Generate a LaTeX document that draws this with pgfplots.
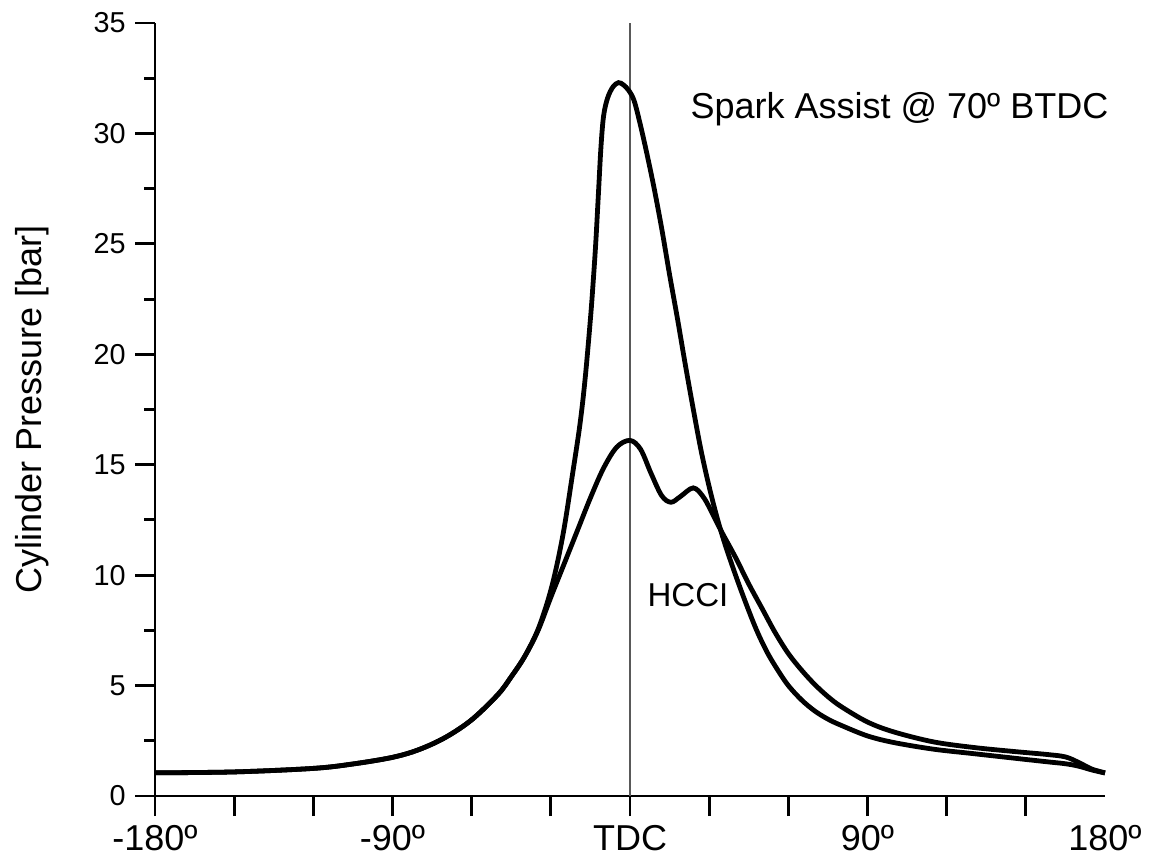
\documentclass[border=0pt]{standalone}
\usepackage{pgfplots}
\pgfplotsset{compat=1.18}
\usepackage{fontspec}
\setmainfont{Liberation Sans}
\usetikzlibrary{calc}
\begin{document}
\begin{tikzpicture}
\begin{axis}[
 name=ax,
 scale only axis, width=356.25pt, height=289.875pt,
 xmin=-180,xmax=180,ymin=0,ymax=35,
 axis lines=left, axis line style={-, line width=1.1pt},
 tick align=outside, tick style={line width=1.1pt, black},
 major tick length=7.5pt, minor tick length=4pt,
 xtick={-180,-150,...,150}, xticklabels={-180º,,,-90º,,,TDC,,,90º,,},
 extra x ticks={180}, extra x tick labels={180º}, extra x tick style={tick style={draw=none}},
 ytick={0,5,...,35}, minor ytick={2.5,7.5,...,32.5},
 /pgf/number format/assume math mode=true,
 xticklabel style={font=\fontsize{13.5}{13.5}\selectfont},
 yticklabel style={font=\fontsize{10.8}{10.8}\selectfont},
 ylabel={Cylinder Pressure [bar]},
 ylabel style={font=\fontsize{13.5}{13.5}\selectfont, at={(axis description cs:-0.119,0.5)}, anchor=base},
 clip=false,
]
\addplot[gray!70!black, line width=0.4pt] coordinates {(0,0) (0,35)};
% HCCI
\addplot[black, line width=1.8pt, smooth, tension=0.55] coordinates {
(-180,1.05) (-150,1.09) (-120,1.25) (-105,1.45) (-90,1.75) (-80,2.1) (-70,2.65) (-60,3.45) (-50,4.6) (-45,5.4) (-40,6.3) (-35,7.45)
(-30,9.0) (-25,10.5) (-20,12.0) (-15,13.5) (-10,14.85) (-5,15.8) (0,16.1) (4,15.7) (8,14.6) (12,13.6) (15.5,13.3) (19,13.55) (24,13.95) (28,13.5) (32,12.6) (35,11.9) (40,10.8) (45,9.6) (50,8.5) (55,7.4) (60,6.45) (65,5.7) (70,5.05) (75,4.5) (80,4.05) (90,3.35) (100,2.9) (115,2.45) (130,2.2) (145,2.02) (158,1.88) (165,1.77) (170,1.52) (175,1.22) (180,1.05)
};
% Spark assist
\addplot[black, line width=1.8pt, smooth, tension=0.55] coordinates {
(-180,1.05) (-150,1.09) (-120,1.25) (-105,1.45) (-90,1.75) (-80,2.1) (-70,2.65) (-60,3.45) (-50,4.6) (-45,5.4) (-40,6.3) (-35,7.5)
(-31,8.9) (-28,10.3) (-25,12.1) (-22,14.4) (-19,16.8) (-17,18.9) (-15,21.6) (-14,23.2) (-13,25.0) (-12,27.2) (-11,29.4) (-10,30.8) (-8.5,31.6) (-6.5,32.1) (-4.4,32.3) (-2.5,32.2) (-0.5,31.95) (1.5,31.5) (3.5,30.6) (6,29.3) (9,27.6) (12,25.7) (15,23.6) (18,21.6) (21,19.5) (24,17.5) (27,15.6) (30,14.0) (33,12.6) (36,11.4) (40,10.0) (44,8.7) (48,7.5) (52,6.5) (56,5.7) (60,5.0) (65,4.35) (70,3.85) (75,3.48) (80,3.2) (90,2.72) (100,2.42) (115,2.12) (130,1.92) (145,1.72) (158,1.55) (165,1.46) (170,1.35) (175,1.18) (180,1.04)
};
\node[anchor=base east, inner sep=0pt, font=\fontsize{13.5}{13.5}\selectfont] at (axis cs:181.5,30.68) {Spark Assist @ 70º BTDC};
\node[anchor=base west, inner sep=0pt, font=\fontsize{12.4}{12.4}\selectfont] at (axis cs:6.44,8.57) {HCCI};
\end{axis}
\pgfresetboundingbox
\path ($(ax.south west)+(-58.125pt,-25.875pt)$) rectangle ($(ax.north east)+(17.625pt,8.625pt)$);
\end{tikzpicture}
\end{document}
